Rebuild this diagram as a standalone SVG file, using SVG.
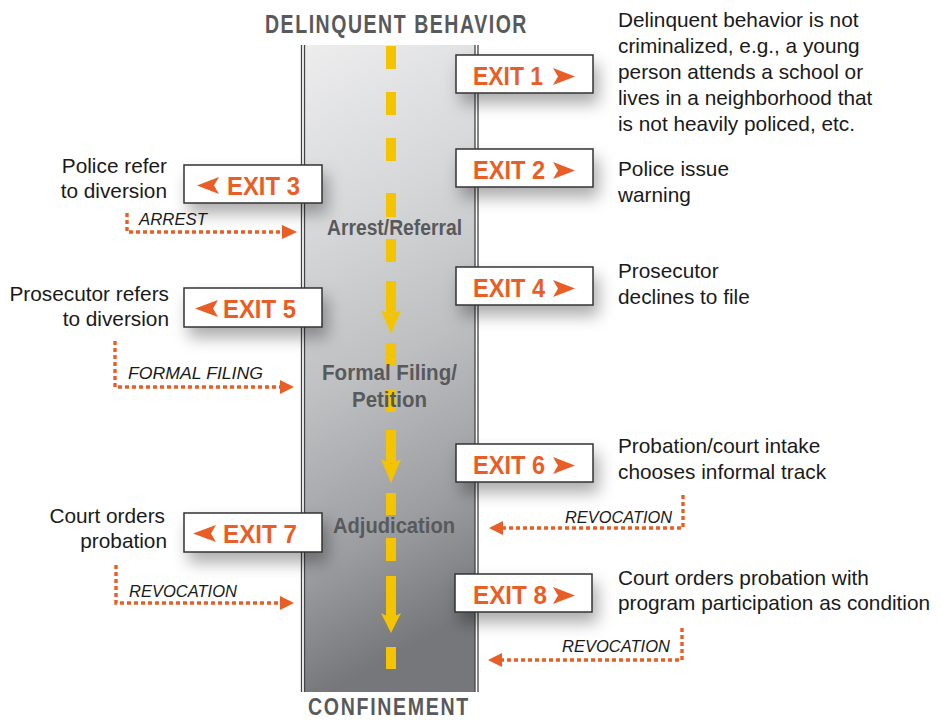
<svg xmlns="http://www.w3.org/2000/svg" width="941" height="721" viewBox="0 0 941 721">
<defs>
<linearGradient id="road" x1="0" y1="0" x2="0.15" y2="1">
<stop offset="0" stop-color="#ededee"/>
<stop offset="0.3" stop-color="#d6d7d9"/>
<stop offset="0.55" stop-color="#bebfc1"/>
<stop offset="0.8" stop-color="#9d9ea1"/>
<stop offset="1" stop-color="#76777a"/>
</linearGradient>
<filter id="sh" x="-30%" y="-60%" width="170%" height="260%">
<feDropShadow dx="5" dy="10" stdDeviation="8" flood-color="#000" flood-opacity="0.32"/>
</filter>
<style>
.box{fill:#fff;stroke:#333;stroke-width:1.5}
.ex{font-family:"Liberation Sans",Arial,sans-serif;font-weight:bold;font-size:26px;fill:#e85e26}
.tri{fill:#e85e26}
.hd{font-family:"Liberation Sans",Arial,sans-serif;font-weight:bold;font-size:25px;fill:#58595b}
.rl{font-family:"Liberation Sans",Arial,sans-serif;font-weight:bold;font-size:22px;fill:#58595b}
.tx{font-family:"Liberation Sans",Arial,sans-serif;font-size:20.8px;fill:#1a1a1a}
.lb{font-family:"Liberation Sans",Arial,sans-serif;font-style:italic;font-size:16px;fill:#1a1a1a}
.dot{fill:none;stroke:#e85e26;stroke-width:3.4;stroke-dasharray:4 3}
.dash{fill:#f5c400}
.edge{stroke:#444;stroke-width:1.3}
</style>
</defs>
<rect width="941" height="721" fill="#fff"/>
<g id="road-group">
<rect x="302" y="45" width="175" height="647" fill="url(#road)"/>
<rect x="302" y="45" width="2.5" height="647" fill="#fff"/>
<rect x="475" y="45" width="2.5" height="647" fill="#fff"/>
<line class="edge" x1="301.5" y1="45" x2="301.5" y2="692"/>
<line class="edge" x1="304.5" y1="45" x2="304.5" y2="692"/>
<line class="edge" x1="475" y1="45" x2="475" y2="692"/>
<line class="edge" x1="478" y1="45" x2="478" y2="692"/>
<g id="centerline">
<rect class="dash" x="386" y="46" width="10" height="23"/>
<rect class="dash" x="386" y="92" width="10" height="23"/>
<rect class="dash" x="386" y="138" width="10" height="23"/>
<rect class="dash" x="386" y="193" width="10" height="24"/>
<rect class="dash" x="386" y="239" width="10" height="23"/>
<rect class="dash" x="386" y="281" width="10" height="33"/>
<polygon class="dash" points="381,310 391,315 401,310 391,334"/>
<rect class="dash" x="386" y="343" width="10" height="23"/>
<rect class="dash" x="386" y="390" width="10" height="22"/>
<rect class="dash" x="386" y="430" width="10" height="33"/>
<polygon class="dash" points="381,459 391,464 401,459 391,483"/>
<rect class="dash" x="386" y="493" width="10" height="22"/>
<rect class="dash" x="386" y="538" width="10" height="23"/>
<rect class="dash" x="386" y="576" width="10" height="42"/>
<polygon class="dash" points="381,613 391,618 401,613 391,633"/>
<rect class="dash" x="386" y="647" width="10" height="22"/>
</g>
<text class="rl" x="327" y="235" textLength="135" lengthAdjust="spacingAndGlyphs">Arrest/Referral</text>
<text class="rl" x="322" y="380" textLength="135" lengthAdjust="spacingAndGlyphs">Formal Filing/</text>
<text class="rl" x="352" y="407" textLength="75" lengthAdjust="spacingAndGlyphs">Petition</text>
<text class="rl" x="333" y="533" textLength="122" lengthAdjust="spacingAndGlyphs">Adjudication</text>
</g>
<text class="hd" x="265" y="33" textLength="263" lengthAdjust="spacingAndGlyphs" letter-spacing="2">DELINQUENT BEHAVIOR</text>
<text class="hd" x="308" y="715" textLength="162" lengthAdjust="spacingAndGlyphs" letter-spacing="2" style="font-size:23px">CONFINEMENT</text>
<g id="connectors">
<path class="dot" d="M127,213 V232 H284"/>
<polygon class="tri" points="297,232 282,225 282,239"/>
<path class="dot" d="M115,341 V387 H281"/>
<polygon class="tri" points="294,387 280,380 280,394"/>
<path class="dot" d="M116,565 V603 H281"/>
<polygon class="tri" points="294,603 280,596 280,610"/>
<path class="dot" d="M683,495 V528 H502"/>
<polygon class="tri" points="489,528 503,521 503,535"/>
<path class="dot" d="M682,628 V660 H501"/>
<polygon class="tri" points="488,660 502,653 502,667"/>
<text class="lb" x="139" y="225" textLength="68" lengthAdjust="spacingAndGlyphs">ARREST</text>
<text class="lb" x="128" y="379" textLength="135" lengthAdjust="spacingAndGlyphs">FORMAL FILING</text>
<text class="lb" x="129" y="597" textLength="108" lengthAdjust="spacingAndGlyphs">REVOCATION</text>
<text class="lb" x="565" y="523" textLength="107" lengthAdjust="spacingAndGlyphs">REVOCATION</text>
<text class="lb" x="562" y="652" textLength="108" lengthAdjust="spacingAndGlyphs">REVOCATION</text>
</g>
<g id="exit1">
<rect class="box" x="456" y="55" width="137" height="38" filter="url(#sh)"/>
<text class="ex" x="473" y="85" textLength="70" lengthAdjust="spacingAndGlyphs">EXIT 1</text>
<polygon class="tri" points="553,68 575,76.5 553,85 558,76.5"/>
</g>
<g id="exit2">
<rect class="box" x="456" y="149" width="137" height="38" filter="url(#sh)"/>
<text class="ex" x="473" y="179" textLength="72" lengthAdjust="spacingAndGlyphs">EXIT 2</text>
<polygon class="tri" points="553,162 575,170.5 553,179 558,170.5"/>
</g>
<g id="exit3">
<rect class="box" x="184" y="165" width="138" height="38" filter="url(#sh)"/>
<polygon class="tri" points="219,177 197,185.5 219,194 214,185.5"/>
<text class="ex" x="227" y="195" textLength="73" lengthAdjust="spacingAndGlyphs">EXIT 3</text>
</g>
<g id="exit4">
<rect class="box" x="456" y="267" width="137" height="38" filter="url(#sh)"/>
<text class="ex" x="473" y="297" textLength="72" lengthAdjust="spacingAndGlyphs">EXIT 4</text>
<polygon class="tri" points="553,280 575,288.5 553,297 558,288.5"/>
</g>
<g id="exit5">
<rect class="box" x="184" y="288" width="138" height="39" filter="url(#sh)"/>
<polygon class="tri" points="218,300 195,308.5 218,317 213,308.5"/>
<text class="ex" x="223" y="318" textLength="73" lengthAdjust="spacingAndGlyphs">EXIT 5</text>
</g>
<g id="exit6">
<rect class="box" x="456" y="444" width="137" height="38" filter="url(#sh)"/>
<text class="ex" x="473" y="474" textLength="72" lengthAdjust="spacingAndGlyphs">EXIT 6</text>
<polygon class="tri" points="553,457 575,465.5 553,474 558,465.5"/>
</g>
<g id="exit7">
<rect class="box" x="184" y="513" width="138" height="39" filter="url(#sh)"/>
<polygon class="tri" points="216,525 193,533.5 216,542 211,533.5"/>
<text class="ex" x="223" y="543" textLength="74" lengthAdjust="spacingAndGlyphs">EXIT 7</text>
</g>
<g id="exit8">
<rect class="box" x="455" y="574" width="137" height="38" filter="url(#sh)"/>
<text class="ex" x="473" y="604" textLength="74" lengthAdjust="spacingAndGlyphs">EXIT 8</text>
<polygon class="tri" points="553,587 575,595.5 553,604 558,595.5"/>
</g>
<g id="notes">
<text class="tx" x="618" y="27">Delinquent behavior is not</text>
<text class="tx" x="618" y="53">criminalized, e.g., a young</text>
<text class="tx" x="618" y="79">person attends a school or</text>
<text class="tx" x="618" y="105">lives in a neighborhood that</text>
<text class="tx" x="618" y="131">is not heavily policed, etc.</text>
<text class="tx" x="618" y="176">Police issue</text>
<text class="tx" x="618" y="202">warning</text>
<text class="tx" x="618" y="278">Prosecutor</text>
<text class="tx" x="618" y="304">declines to file</text>
<text class="tx" x="618" y="453">Probation/court intake</text>
<text class="tx" x="618" y="479">chooses informal track</text>
<text class="tx" x="618" y="585">Court orders probation with</text>
<text class="tx" x="618" y="610">program participation as condition</text>
<text class="tx" x="167" y="173" text-anchor="end">Police refer</text>
<text class="tx" x="167" y="198" text-anchor="end">to diversion</text>
<text class="tx" x="169" y="301" text-anchor="end">Prosecutor refers</text>
<text class="tx" x="169" y="326" text-anchor="end">to diversion</text>
<text class="tx" x="165" y="523" text-anchor="end">Court orders</text>
<text class="tx" x="167" y="548" text-anchor="end">probation</text>
</g>
</svg>
